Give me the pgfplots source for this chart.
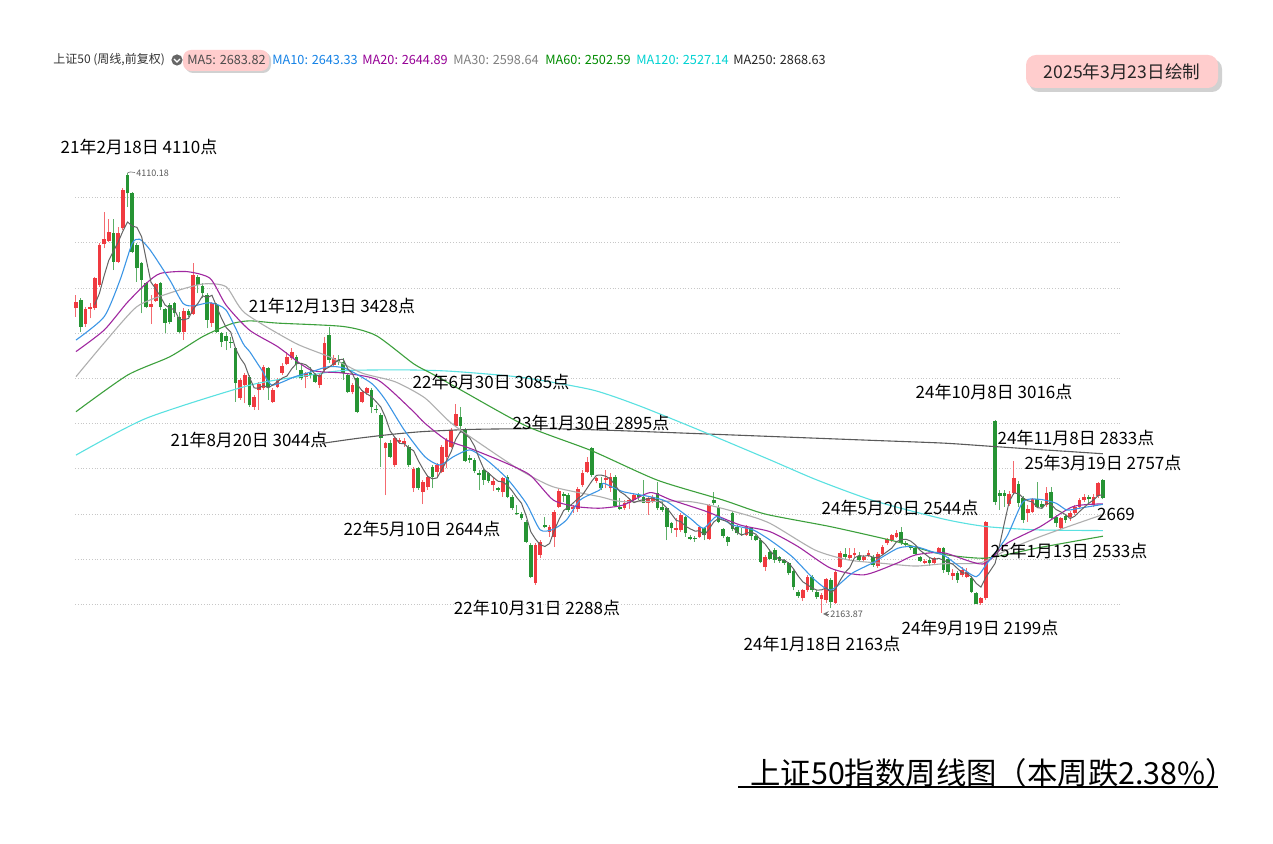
\documentclass[border=0pt]{standalone}
\usepackage{fontspec}
\setmainfont{Noto Sans CJK SC}
\usepackage{pgfplots}
\usepackage{pgfplotstable}
\pgfplotsset{compat=1.18}

\definecolor{upred}{RGB}{240,58,64}
\definecolor{dngreen}{RGB}{38,148,52}
\definecolor{cma5}{RGB}{100,100,100}
\definecolor{cma10}{RGB}{60,150,230}
\definecolor{cma20}{RGB}{160,40,160}
\definecolor{cma30}{RGB}{175,175,175}
\definecolor{cma60}{RGB}{60,160,60}
\definecolor{cma120}{RGB}{90,225,225}
\definecolor{cma250}{RGB}{90,90,90}
\definecolor{boxpink}{RGB}{255,205,205}

% weekly candles: index, open, high, low, close
\pgfplotstableread{
i o h l c
0 3510 3569 3474 3540
1 3547 3555 3407 3429
2 3441 3518 3429 3506
3 3509 3533 3466 3515
4 3510 3651 3503 3643
5 3614 3798 3606 3791
6 3795 3938 3776 3817
7 3810 3904 3805 3850
8 3845 3904 3680 3717
9 3717 3872 3710 3842
10 3864 4041 3857 4034
11 4100 4110 3960 4019
12 4019 4027 3754 3761
13 3790 3801 3628 3687
14 3710 3717 3488 3636
15 3621 3628 3510 3515
16 3518 3569 3441 3529
17 3544 3621 3540 3618
18 3621 3628 3503 3515
19 3506 3510 3403 3447
20 3525 3533 3441 3451
21 3533 3540 3474 3491
22 3474 3496 3400 3407
23 3407 3510 3370 3500
24 3500 3506 3474 3481
25 3485 3710 3481 3658
26 3651 3658 3577 3614
27 3609 3621 3555 3577
28 3569 3577 3422 3459
29 3444 3540 3429 3533
30 3525 3533 3400 3407
31 3400 3407 3341 3363
32 3388 3407 3326 3367
33 3363 3385 3333 3356
34 3333 3341 3098 3179
35 3112 3201 3105 3193
36 3171 3223 3090 3215
37 3208 3215 3075 3083
38 3075 3127 3061 3120
39 3149 3186 3061 3176
40 3156 3260 3149 3252
41 3245 3252 3105 3161
42 3097 3156 3093 3149
43 3161 3201 3156 3193
44 3226 3267 3215 3255
45 3264 3319 3260 3297
46 3289 3333 3282 3319
47 3294 3304 3238 3264
48 3238 3267 3193 3201
49 3208 3230 3156 3223
50 3226 3252 3201 3215
51 3215 3223 3179 3186
52 3171 3223 3156 3215
53 3238 3385 3230 3356
54 3392 3428 3267 3282
55 3260 3304 3252 3289
56 3282 3304 3260 3274
57 3274 3289 3193 3223
58 3215 3223 3134 3142
59 3142 3180 3130 3170
60 3201 3208 3046 3053
61 3097 3149 3090 3142
62 3134 3164 3127 3156
63 3149 3156 3046 3075
64 3064 3083 3046 3061
65 3038 3046 2810 2935
66 2891 2920 2684 2913
67 2916 2928 2847 2854
68 2817 2943 2810 2935
69 2920 2935 2913 2928
70 2910 2935 2898 2925
71 2898 2906 2810 2817
72 2714 2810 2699 2798
73 2803 2810 2707 2714
74 2699 2751 2644 2743
75 2718 2773 2707 2763
76 2810 2817 2714 2763
77 2788 2825 2758 2817
78 2788 2906 2780 2898
79 2854 2935 2803 2928
80 2898 2980 2891 2972
81 2990 3085 2984 3043
82 3028 3075 2957 2990
83 2972 2980 2832 2836
84 2847 2862 2825 2839
85 2839 2847 2780 2792
86 2780 2795 2707 2773
87 2795 2803 2729 2751
88 2783 2788 2739 2748
89 2729 2758 2704 2748
90 2714 2721 2699 2707
91 2699 2766 2677 2758
92 2766 2773 2670 2677
93 2677 2684 2618 2625
94 2606 2640 2596 2600
95 2600 2611 2574 2581
96 2567 2574 2471 2478
97 2463 2471 2316 2323
98 2294 2471 2288 2463
99 2419 2485 2404 2478
100 2552 2589 2537 2541
101 2522 2552 2500 2544
102 2500 2618 2456 2611
103 2633 2714 2625 2703
104 2689 2699 2655 2680
105 2684 2692 2611 2618
106 2621 2640 2603 2630
107 2621 2721 2611 2710
108 2729 2795 2721 2783
109 2788 2854 2780 2832
110 2891 2898 2766 2773
111 2748 2766 2736 2760
112 2736 2766 2706 2714
113 2751 2795 2714 2758
114 2714 2780 2699 2766
115 2766 2773 2633 2636
116 2633 2670 2618 2622
117 2625 2662 2618 2650
118 2648 2670 2621 2662
119 2662 2692 2655 2684
120 2684 2692 2662 2674
121 2677 2751 2647 2650
122 2650 2677 2596 2670
123 2655 2684 2648 2677
124 2692 2743 2618 2625
125 2633 2662 2611 2618
126 2625 2633 2485 2544
127 2559 2566 2515 2537
128 2530 2581 2500 2537
129 2530 2603 2522 2596
130 2585 2592 2500 2515
131 2497 2507 2485 2488
132 2493 2503 2478 2488
133 2497 2547 2493 2541
134 2537 2544 2485 2507
135 2488 2645 2485 2640
136 2662 2699 2640 2648
137 2633 2640 2559 2566
138 2533 2540 2493 2503
139 2497 2503 2459 2478
140 2606 2614 2527 2533
141 2544 2552 2507 2515
142 2512 2537 2503 2507
143 2507 2552 2503 2544
144 2537 2544 2485 2503
145 2503 2507 2480 2485
146 2485 2493 2382 2390
147 2365 2420 2350 2410
148 2434 2445 2395 2400
149 2440 2450 2385 2397
150 2409 2415 2385 2394
151 2397 2402 2375 2385
152 2382 2390 2330 2338
153 2350 2356 2262 2276
154 2257 2265 2230 2238
155 2227 2270 2215 2264
156 2264 2330 2257 2320
157 2323 2330 2257 2264
158 2257 2262 2225 2232
159 2223 2250 2164 2242
160 2220 2318 2205 2311
161 2308 2315 2183 2213
162 2208 2352 2200 2345
163 2367 2436 2360 2429
164 2423 2450 2400 2409
165 2404 2450 2395 2419
166 2418 2451 2412 2429
167 2415 2430 2390 2397
168 2397 2420 2390 2412
169 2419 2440 2412 2429
170 2412 2420 2368 2375
171 2370 2430 2362 2423
172 2423 2462 2418 2456
173 2471 2495 2465 2488
174 2485 2512 2478 2507
175 2500 2530 2495 2515
176 2522 2544 2465 2470
177 2473 2480 2455 2463
178 2459 2465 2440 2448
179 2448 2455 2418 2423
180 2409 2415 2388 2394
181 2385 2400 2378 2393
182 2397 2405 2370 2382
183 2385 2412 2378 2404
184 2433 2455 2426 2448
185 2448 2455 2340 2353
186 2400 2410 2330 2345
187 2326 2356 2310 2341
188 2341 2350 2296 2308
189 2330 2365 2320 2353
190 2323 2360 2315 2345
191 2316 2325 2250 2257
192 2249 2255 2200 2202
193 2205 2235 2199 2227
194 2227 2570 2220 2566
196 3013 3016 2640 2655
197 2695 2707 2618 2680
198 2692 2707 2633 2680
199 2645 2700 2635 2690
200 2692 2833 2685 2758
201 2733 2745 2630 2650
202 2670 2680 2560 2575
203 2603 2640 2566 2621
204 2611 2672 2605 2665
205 2665 2740 2625 2633
206 2645 2660 2625 2633
207 2640 2720 2633 2695
208 2699 2720 2575 2581
209 2589 2596 2545 2559
210 2537 2589 2533 2581
211 2591 2600 2560 2574
212 2589 2615 2570 2606
213 2606 2640 2596 2633
214 2633 2670 2625 2662
215 2662 2690 2655 2674
216 2674 2684 2640 2665
217 2640 2690 2630 2677
218 2680 2743 2672 2736
219 2751 2757 2665 2670
}\candles

% 5-week average of the closes
\def\mqa{3540}\def\mqb{3540}\def\mqc{3540}\def\mqd{3540}
\pgfplotstablecreatecol[create col/assign/.code={%
  \getthisrow{c}\cur
  \pgfmathsetmacro\avg{\cur/5+\mqa/5+\mqb/5+\mqc/5+\mqd/5}%
  \xdef\mqd{\mqc}\xdef\mqc{\mqb}\xdef\mqb{\mqa}\xdef\mqa{\cur}%
  \pgfkeyslet{/pgfplots/table/create col/next content}\avg}]{ma}\candles

\newcommand\lab{\fontsize{8.5}{10}\selectfont}
\newcommand\hdr{\fontsize{6.35}{7}\selectfont}

\begin{document}
\begin{tikzpicture}[x=0.5pt,y=0.5pt,every node/.style={inner sep=0pt}]
\fill[white] (0,0) rectangle (1273,844);
\path[use as bounding box] (0,0) rectangle (1273,844);

\begin{axis}[
  at={(37.5pt,111.85pt)}, anchor=south west,
  scale only axis, width=522.5pt, height=228.25pt,
  xmin=-0.21, xmax=222.65, ymin=2130, ymax=4150,
  axis line style={draw=none},
  xtick=\empty, ytick={2200,2400,...,4000}, yticklabels={},
  major tick length=0pt,
  ymajorgrids, grid style={densely dotted, black!22, line width=0.4pt},
  clip=false,
  error bars/y dir=plus, error bars/y explicit, error bars/error mark=none,
]
% wicks
\addplot[draw=none, mark=none, error bars/error bar style={draw=upred!75, line width=0.5pt}]
  table[x=i, y expr={\thisrow{c}>=\thisrow{o} ? \thisrow{l} : nan},
        y error plus expr={\thisrow{h}-\thisrow{l}}] {\candles};
\addplot[draw=none, mark=none, error bars/error bar style={draw=dngreen!75, line width=0.5pt}]
  table[x=i, y expr={\thisrow{c}<\thisrow{o} ? \thisrow{l} : nan},
        y error plus expr={\thisrow{h}-\thisrow{l}}] {\candles};
% bodies
\addplot[draw=none, mark=none, error bars/error bar style={draw=upred, line width=1.85pt}]
  table[x=i, y expr={\thisrow{c}>=\thisrow{o} ? \thisrow{o} : nan},
        y error plus expr={max(\thisrow{c}-\thisrow{o},4)}] {\candles};
\addplot[draw=none, mark=none, error bars/error bar style={draw=dngreen, line width=1.85pt}]
  table[x=i, y expr={\thisrow{c}<\thisrow{o} ? \thisrow{c} : nan},
        y error plus expr={max(\thisrow{o}-\thisrow{c},4)}] {\candles};

% moving averages
\addplot[cma250, line width=0.55pt, smooth, tension=0.4, mark=none] coordinates {
(52.5,2913) (60,2935) (67,2952) (74,2965) (85,2975) (100,2978) (112,2972) (125,2962)
(140,2950) (155,2938) (170,2926) (185,2914) (195,2900) (205,2886) (219,2867)};
\addplot[cma120, line width=0.55pt, smooth, tension=0.4, mark=none] coordinates {
(0,2861) (15,3024) (37,3170) (50,3215) (57,3235) (70,3238) (80,3232) (95,3205)
(110,3150) (120,3080) (133,2971) (148,2840) (158,2751) (170,2660) (185,2578)
(194,2545) (205,2530) (219,2527)};
\addplot[cma60, line width=0.55pt, smooth, tension=0.4, mark=none] coordinates {
(0,3053) (11,3215) (20,3296) (27,3385) (33,3441) (37,3455) (43,3445) (57,3430)
(64,3390) (72,3265) (76,3220) (82,3150) (96,2990) (110,2880) (124,2750) (138,2662)
(147,2600) (161,2544) (175,2478) (184,2425) (194,2405) (205,2450) (219,2502)};
\addplot[cma30, line width=0.55pt, smooth, tension=0.4, mark=none] coordinates {
(0,3208) (6,3357) (13,3518) (20,3578) (27,3618) (32,3606) (36,3490) (46.7,3357)
(54,3296) (61,3224) (68,3186) (74.4,3114) (80,3003) (87.6,2892) (94.7,2795)
(101.7,2721) (111.7,2677) (116.7,2655) (131,2655) (141.6,2604) (148,2559)
(157.6,2441) (164.7,2397) (172,2382) (179,2370) (185,2380) (193,2385) (198.5,2441)
(205.6,2500) (212.6,2552) (219,2598)};
\addplot[cma20, line width=0.55pt, smooth, tension=0.4, mark=none] coordinates {
(0,3319) (6,3414) (10.8,3533) (15,3621) (18,3665) (23.6,3673) (28.6,3643) (32,3525)
(37,3414) (43,3341) (50,3238) (57,3224) (64.4,3193) (71.6,3061) (74.4,3002)
(79,2928) (84,2891) (91,2832) (96.8,2773) (101.8,2662) (106.8,2633) (111.7,2626)
(116.7,2640) (122.4,2695) (127,2662) (134.5,2611) (141.6,2552) (148,2522)
(154,2456) (161,2360) (168,2331) (175,2382) (179,2419) (185,2429) (193.4,2379)
(198.5,2470) (205.6,2544) (212.6,2633) (219,2645)};
\addplot[cma10, line width=0.55pt, smooth, tension=0.4, mark=none] coordinates {
(0,3370) (6,3473) (9.4,3636) (12,3798) (13.6,3816) (15.8,3769) (20,3636) (22.8,3533)
(25,3521) (28.6,3535) (32,3503) (35.6,3356) (37,3320) (39.6,3238) (41.8,3171)
(46.7,3208) (50.3,3230) (53.8,3252) (57.4,3245) (63,3179) (66,3105) (70,2972)
(74.4,2854) (77.6,2817) (80.5,2854) (84,2884) (87.6,2839) (91.9,2758) (96,2648)
(99,2530) (101.8,2533) (104.6,2574) (107.5,2662) (111.7,2707) (112.5,2736)
(116.7,2699) (122.4,2677) (126,2655) (131,2581) (133.8,2537) (136.6,2589) (140,2552)
(144.4,2530) (148,2485) (152.7,2412) (157.6,2308) (161,2264) (165.5,2338)
(169.7,2382) (175.3,2449) (179,2456) (182.5,2434) (185,2419) (188.5,2367) (192,2323)
(194.3,2382) (198.5,2500) (202,2655) (205.6,2665) (209,2648) (211.3,2618) (214,2626)
(219,2643)};
\addplot[cma5, line width=0.5pt, mark=none]
  table[x=i, y=ma, skip coords between index={0}{4}] {\candles};

% extreme marks
\draw[black!55, line width=0.3pt] (axis cs:11,4110) -- (axis cs:11.6,4114) -- (axis cs:12.6,4111);
\node[anchor=west, font=\fontsize{4.5}{5}\selectfont, text=black!65] at (axis cs:12.8,4106) {4110.18};
\draw[black!55, line width=0.3pt, -stealth] (axis cs:160.6,2158) -- (axis cs:159.3,2158);
\node[anchor=west, font=\fontsize{4.5}{5}\selectfont, text=black!65] at (axis cs:160.8,2158) {2163.87};
\end{axis}

% header
\node[anchor=west, font=\fontsize{6}{7}\selectfont, text=black!80] at (53,784) {上证50 (周线,前复权)};
\fill[black!60] (177,784) circle (2.8pt);
\draw[white, line width=0.6pt] (174,785) -- (177,782) -- (180,785);
\fill[black!18, rounded corners=4pt] (185,771) rectangle (271,792);
\fill[boxpink, rounded corners=4pt] (183,773) rectangle (269,794);
\node[anchor=west, font=\hdr, text=black!70] at (187,784) {MA5: 2683.82};
\node[anchor=west, font=\hdr, text={rgb,255:red,20;green,130;blue,230}] at (272,784) {MA10: 2643.33};
\node[anchor=west, font=\hdr, text={rgb,255:red,150;green,0;blue,150}] at (362,784) {MA20: 2644.89};
\node[anchor=west, font=\hdr, text=black!50] at (453,784) {MA30: 2598.64};
\node[anchor=west, font=\hdr, text={rgb,255:red,0;green,140;blue,0}] at (545,784) {MA60: 2502.59};
\node[anchor=west, font=\hdr, text={rgb,255:red,0;green,210;blue,210}] at (636,784) {MA120: 2527.14};
\node[anchor=west, font=\hdr, text=black!85] at (733,784) {MA250: 2868.63};

% date box
\fill[black!18, rounded corners=5pt] (1029,752) rectangle (1222,785);
\fill[boxpink, rounded corners=5pt] (1026,756) rectangle (1218,789);
\node[font=\fontsize{8.8}{10}\selectfont, text=black!85] at (1122,772) {2025年3月23日绘制};

% annotations
\begin{scope}[every node/.style={font=\lab, text=black, inner sep=0pt}]
\node at (139,697) {21年2月18日 4110点};
\node at (332,538) {21年12月13日 3428点};
\node at (491,462) {22年6月30日 3085点};
\node at (249,404) {21年8月20日 3044点};
\node at (591,421) {23年1月30日 2895点};
\node at (994,452) {24年10月8日 3016点};
\node at (1076,406) {24年11月8日 2833点};
\node at (1103,381) {25年3月19日 2757点};
\node at (1116,330) {2669};
\node at (900,336) {24年5月20日 2544点};
\node at (422,315) {22年5月10日 2644点};
\node at (1069,293) {25年1月13日 2533点};
\node at (537,236) {22年10月31日 2288点};
\node at (980,216) {24年9月19日 2199点};
\node at (822,200) {24年1月18日 2163点};
\end{scope}

% title
\node[anchor=west, font=\fontsize{15.2}{17}\selectfont, text=black] at (750,71) {上证50指数周线图（本周跌2.38\%）};
\draw[black, line width=1pt] (738,57) -- (1218,57);
\end{tikzpicture}
\end{document}
